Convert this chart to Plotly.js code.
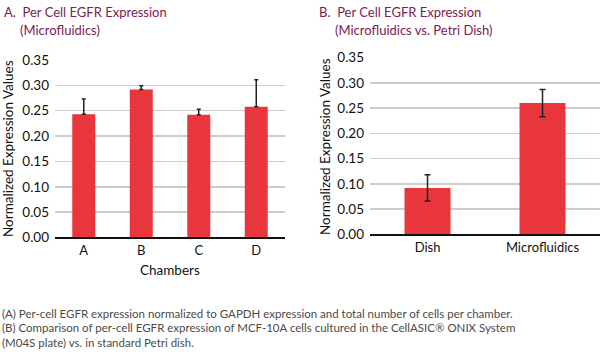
<!DOCTYPE html>
<html>
<head>
<meta charset="utf-8">
<script src="https://cdn.plot.ly/plotly-3.0.1.min.js"></script>
<style>html,body{margin:0;padding:0;background:#fff;}#chart{width:600px;height:355px;}</style>
</head>
<body>
<div id="chart"></div>
<script>
// Panel A
const chambers = ['A', 'B', 'C', 'D'];
const chamberValues = [0.243, 0.292, 0.242, 0.258];
const chamberErrUp = [0.030, 0.007, 0.011, 0.053];
// Panel B
const conditions = ['Dish', 'Microfluidics'];
const conditionValues = [0.092, 0.260];
const conditionErr = [0.026, 0.027];
const yTicks = [0, 0.05, 0.10, 0.15, 0.20, 0.25, 0.30, 0.35];
const yTickText = ['0.00', '0.05', '0.10', '0.15', '0.20', '0.25', '0.30', '0.35'];

const red = '#e8363c';
const font = 'Lato, "Open Sans", sans-serif';
const titleColor = '#7a2152';

const traces = [
  {
    type: 'bar', x: chambers, y: chamberValues, xaxis: 'x', yaxis: 'y',
    marker: {color: red}, width: 0.4,
    error_y: {type: 'data', symmetric: false, array: chamberErrUp, arrayminus: chamberValues.map(() => 0),
      color: '#222', thickness: 1.5, width: 2},
    hoverinfo: 'skip'
  },
  {
    type: 'bar', x: conditions, y: conditionValues, xaxis: 'x2', yaxis: 'y2',
    marker: {color: red}, width: 0.4,
    error_y: {type: 'data', array: conditionErr, color: '#222', thickness: 1.5, width: 3},
    hoverinfo: 'skip'
  }
];

const yaxisBase = {
  range: [0, 0.35], tickvals: yTicks, ticktext: yTickText,
  showgrid: true, gridcolor: '#cccccc', gridwidth: 1.5,
  zeroline: false, showline: false, ticks: '',
  tickfont: {family: font, size: 13.5, color: '#111'}, ticklabelstandoff: 5,
  fixedrange: true
};
const xaxisBase = {
  showline: true, linecolor: '#111', linewidth: 2, ticks: '',
  tickfont: {family: font, size: 13, color: '#111'}, showgrid: false,
  fixedrange: true
};

const layout = {
  width: 600, height: 355,
  margin: {l: 0, r: 0, t: 0, b: 0},
  paper_bgcolor: '#fff', plot_bgcolor: '#fff',
  showlegend: false,
  xaxis: Object.assign({}, xaxisBase, {domain: [0.0917, 0.475], anchor: 'y'}),
  yaxis: Object.assign({}, yaxisBase, {domain: [0.331, 0.831], anchor: 'x'}),
  xaxis2: Object.assign({}, xaxisBase, {domain: [0.6167, 1.0], anchor: 'y2'}),
  yaxis2: Object.assign({}, yaxisBase, {domain: [0.340, 0.8375], anchor: 'x2'}),
  annotations: [
    {text: 'A.  Per Cell EGFR Expression', x: 2, y: 2, xref: 'paper', yref: 'paper'},
    {text: '(Microfluidics)', x: 18, y: 20, xref: 'paper', yref: 'paper'},
    {text: 'B.  Per Cell EGFR Expression', x: 317, y: 2, xref: 'paper', yref: 'paper'},
    {text: '(Microfluidics vs. Petri Dish)', x: 333, y: 20, xref: 'paper', yref: 'paper'}
  ].map(a => ({
    text: a.text, xref: 'paper', yref: 'paper', x: a.x / 600, y: 1 - a.y / 355,
    xanchor: 'left', yanchor: 'top', showarrow: false,
    font: {family: font, size: 13, color: titleColor}
  })).concat([
    {text: 'Normalized Expression Values', cx: 8, cy: 149, rot: -90},
    {text: 'Normalized Expression Values', cx: 325, cy: 147, rot: -90}
  ].map(a => ({
    text: a.text, xref: 'paper', yref: 'paper', x: a.cx / 600, y: 1 - a.cy / 355,
    xanchor: 'center', yanchor: 'middle', textangle: a.rot, showarrow: false,
    font: {family: font, size: 13.5, color: '#111'}
  }))).concat([{
    text: 'Chambers', xref: 'paper', yref: 'paper', x: 170 / 600, y: 1 - 270 / 355,
    xanchor: 'center', yanchor: 'middle', showarrow: false,
    font: {family: font, size: 13.5, color: '#111'}
  }]).concat([
    '(A) Per-cell EGFR expression normalized to GAPDH expression and total number of cells per chamber.',
    '(B) Comparison of per-cell EGFR expression of MCF-10A cells cultured in the CellASIC\u00ae ONIX System',
    '(M04S plate) vs. in standard Petri dish.'
  ].map((t, i) => ({
    text: t, xref: 'paper', yref: 'paper', x: 0, y: 1 - (313 + i * 14.7) / 355,
    xanchor: 'left', yanchor: 'middle', showarrow: false,
    font: {family: font, size: 11.5, color: '#4a4a4a'}
  })))
};

Plotly.newPlot('chart', traces, layout, {staticPlot: true, displayModeBar: false});
</script>
</body>
</html>
